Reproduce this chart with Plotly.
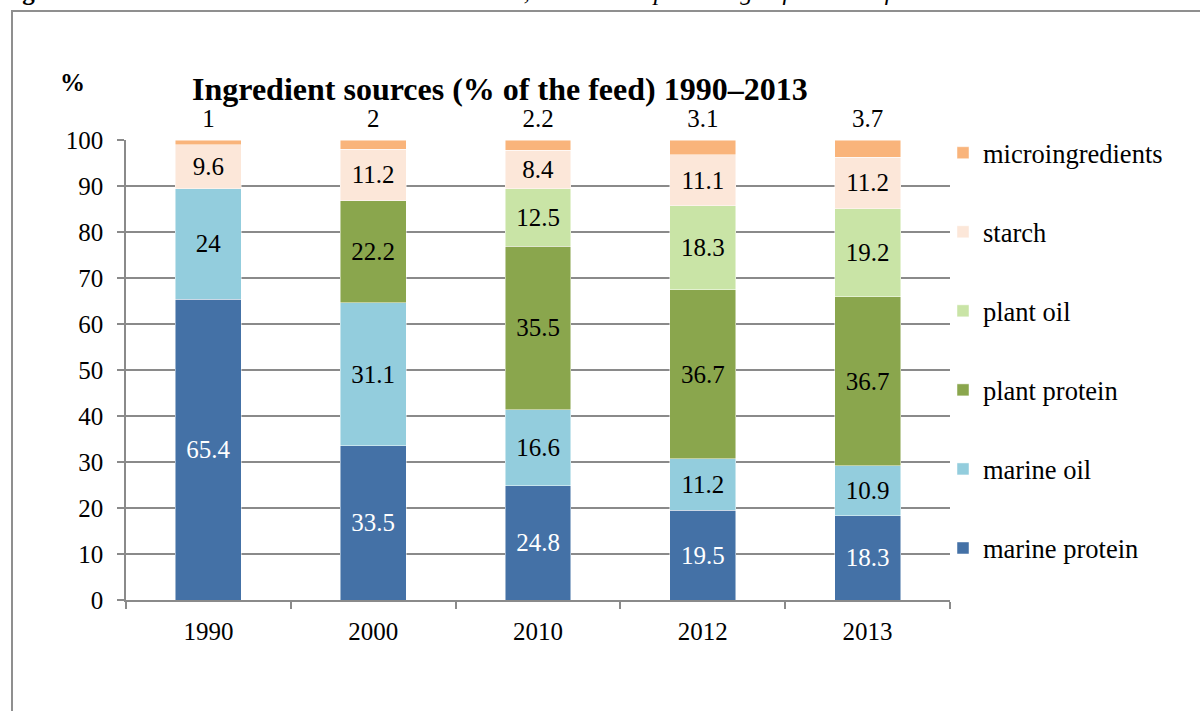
import plotly.graph_objects as go

years = ["1990", "2000", "2010", "2012", "2013"]
marine_protein = [65.4, 33.5, 24.8, 19.5, 18.3]
marine_oil = [24.0, 31.1, 16.6, 11.2, 10.9]
plant_protein = [0.0, 22.2, 35.5, 36.7, 36.7]
plant_oil = [0.0, 0.0, 12.5, 18.3, 19.2]
starch = [9.6, 11.2, 8.4, 11.1, 11.2]
microingredients = [1.0, 2.0, 2.2, 3.1, 3.7]

series = [
    ("marine protein", marine_protein, "#4471A6", "white"),
    ("marine oil", marine_oil, "#93CDDD", "black"),
    ("plant protein", plant_protein, "#8AA64D", "black"),
    ("plant oil", plant_oil, "#C9E4A6", "black"),
    ("starch", starch, "#FCE7D9", "black"),
    ("microingredients", microingredients, "#F9B47B", "black"),
]

FONT = "Liberation Serif"
W, H = 1200, 711
L, R, T, B = 126, 250, 140, 111
PW, PH = W - L - R, H - T - B


def px_x(x):
    return (x - L) / PW


def px_y(y):
    return (H - B - y) / PH


fig = go.Figure()
n = len(series)
for i, (name, vals, color, tcolor) in enumerate(series):
    is_micro = name == "microingredients"
    fig.add_trace(go.Bar(
        x=years, y=vals, name=name, width=0.4,
        marker=dict(color=color, line=dict(color="rgba(255,255,255,0.6)", width=0.8)),
        text=[("" if (v == 0 or is_micro) else f"{v:g}") for v in vals],
        textposition="inside", insidetextanchor="middle", constraintext="none",
        textfont=dict(family=FONT, size=25, color=tcolor),
        insidetextfont=dict(family=FONT, size=25, color=tcolor),
        legendgroup=name, legendrank=n - i, hoverinfo="skip",
    ))

# microingredient labels placed above each stacked column
totals = [sum(s[1][j] for s in series) for j in range(len(years))]
fig.add_trace(go.Scatter(
    x=years, y=totals, mode="markers+text", text=[f"{v:g}" for v in microingredients],
    marker=dict(size=10, color="rgba(0,0,0,0)"),
    textposition="top center", textfont=dict(family=FONT, size=25, color="black"),
    showlegend=False, hoverinfo="skip", cliponaxis=False,
))

# title and % label
fig.add_annotation(xref="paper", yref="paper", x=px_x(500), y=px_y(89),
                   text="<b>Ingredient sources (% of the feed) 1990–2013</b>",
                   showarrow=False, xanchor="center", yanchor="middle",
                   font=dict(family=FONT, size=32, color="black"))
fig.add_annotation(xref="paper", yref="paper", x=px_x(72), y=px_y(83),
                   text="<b>%</b>", showarrow=False, xanchor="center", yanchor="middle",
                   font=dict(family=FONT, size=25, color="black"))
# caption partially visible at top (cut off by the page edge, as in the source)
fig.add_annotation(xref="paper", yref="paper", x=px_x(-1), y=px_y(6),
                   text="<b>Figure 17:</b> <i>Nutrient sources in Atlantic salmon diets, shown as a percentage of the total feed</i>",
                   showarrow=False, xanchor="left", yanchor="bottom", borderpad=0,
                   font=dict(family=FONT, size=25, color="black"))

# outer border box
fig.add_shape(type="rect", xref="paper", yref="paper",
              x0=px_x(12), x1=px_x(1210), y0=px_y(730), y1=px_y(11),
              line=dict(color="#8F8F8F", width=2), fillcolor="rgba(0,0,0,0)", layer="below")

fig.update_layout(
    width=W, height=H, barmode="stack",
    margin=dict(l=L, r=R, t=T, b=B, autoexpand=False),
    paper_bgcolor="white", plot_bgcolor="white",
    font=dict(family=FONT, size=24, color="black"),
    uniformtext=dict(minsize=25, mode="show"),
    showlegend=True,
    legend=dict(x=px_x(943), y=px_y(129), xanchor="left", yanchor="top",
                traceorder="grouped", tracegroupgap=41.6, maxheight=650,
                font=dict(family=FONT, size=26.5, color="black"),
                bgcolor="rgba(0,0,0,0)", itemclick=False, itemdoubleclick=False),
    xaxis=dict(type="category", categoryorder="array", categoryarray=years,
               range=[-0.5, len(years) - 0.5],
               showline=True, linecolor="#8A8A8A", linewidth=1.5,
               ticks="outside", tickson="boundaries", ticklen=7, tickcolor="#8A8A8A",
               tickwidth=1.5, showgrid=False, ticklabelstandoff=8,
               tickfont=dict(family=FONT, size=25)),
    yaxis=dict(range=[0, 100], dtick=10, showline=True, linecolor="#8A8A8A", linewidth=1.5,
               ticks="outside", ticklen=7, tickcolor="#8A8A8A", tickwidth=1.5,
               showgrid=True, gridcolor="#8A8A8A", gridwidth=1.5, zeroline=False,
               ticklabelstandoff=9, tickfont=dict(family=FONT, size=25)),
)

fig.write_html("out.html", post_script="document.body.style.margin='0';",
               config={"displayModeBar": False})
